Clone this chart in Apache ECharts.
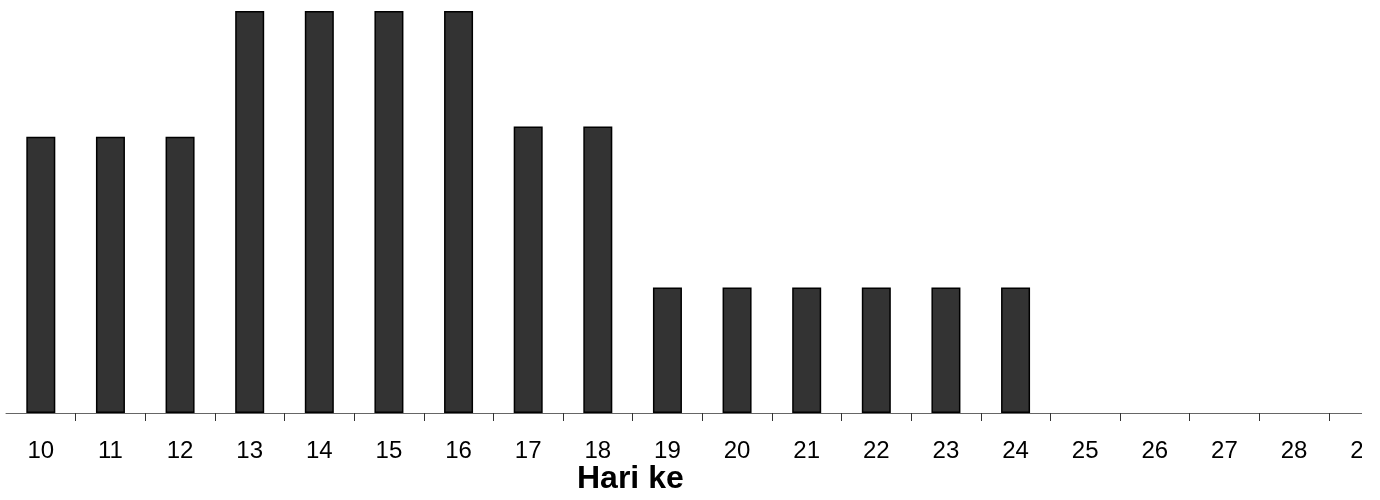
<!DOCTYPE html>
<html>
<head>
<meta charset="utf-8">
<script src="https://cdn.jsdelivr.net/npm/echarts@6/dist/echarts.min.js"></script>
<style>
html,body{margin:0;padding:0;background:#fff;}
#wrap{width:1362px;height:500px;overflow:hidden;}
#chart{width:1400px;height:500px;}
</style>
</head>
<body>
<div id="wrap"><div id="chart"></div></div>
<script>
const categories = ['10','11','12','13','14','15','16','17','18','19','20','21','22','23','24','25','26','27','28','29'];
const values = [22, 22, 22, 32, 32, 32, 32, 22.8, 22.8, 10, 10, 10, 10, 10, 10, 0, 0, 0, 0, 0];
const axisTitle = 'Hari ke';
const yMax = 32;

const chart = echarts.init(document.getElementById('chart'), null, {renderer: 'canvas'});
chart.setOption({
  animation: false,
  backgroundColor: '#fff',
  grid: {left: 6, top: 11, width: 1392.5, height: 402, containLabel: false},
  xAxis: {
    type: 'category',
    data: categories,
    boundaryGap: true,
    axisLine: {show: true, lineStyle: {color: '#666', width: 1}},
    axisTick: {show: true, interval: function (i) { return i !== 0; }, length: 8, lineStyle: {color: '#333', width: 1}},
    axisLabel: {interval: 0, margin: 26, fontSize: 24, color: '#000', fontFamily: 'Liberation Sans, Arial, sans-serif', showMaxLabel: true, showMinLabel: true},
    splitLine: {show: false}
  },
  yAxis: {
    type: 'value', min: 0, max: yMax, show: false,
    splitLine: {show: false}
  },
  series: [{
    type: 'bar',
    data: values.map(v => v === 0 ? null : v),
    barWidth: 29,
    itemStyle: {color: '#333333', borderColor: '#000', borderWidth: 1.5}
  }],
  graphic: [{
    type: 'text',
    left: 577, top: 463,
    style: {text: axisTitle, font: 'bold 32px "Liberation Sans", Arial, sans-serif', fill: '#000'}
  }]
});
</script>
</body>
</html>
